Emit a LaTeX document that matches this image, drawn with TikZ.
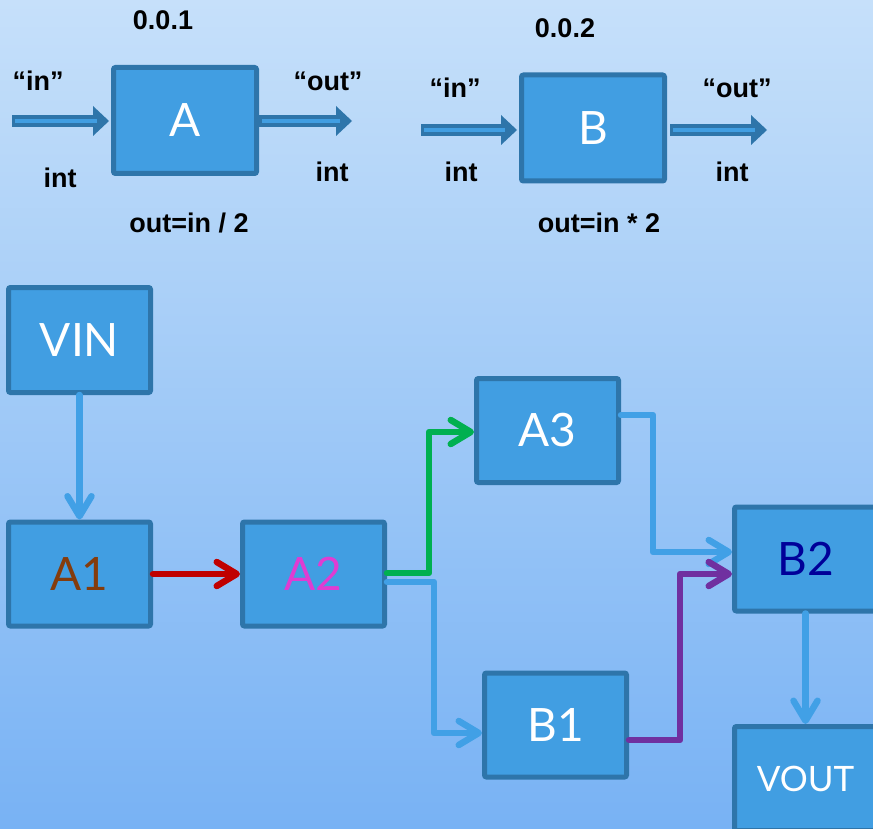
\documentclass[tikz,border=0pt]{standalone}
\usepackage{fontspec}
\setmainfont{Liberation Sans}
\newfontfamily\gillfont{Lato}
\usetikzlibrary{arrows.meta,calc}
\definecolor{bgtop}{HTML}{C6E0FA}
\definecolor{bgbot}{HTML}{78B2F4}
\definecolor{boxfill}{HTML}{419EE2}
\definecolor{boxline}{HTML}{2E75AA}
\definecolor{connblue}{HTML}{41A0E6}
\definecolor{cred}{HTML}{C00000}
\definecolor{cgreen}{HTML}{00B050}
\definecolor{cpurple}{HTML}{7030A0}
\definecolor{tbrown}{HTML}{843C0C}
\definecolor{tmagenta}{HTML}{E03CD2}
\definecolor{tnavy}{HTML}{000099}
\begin{document}
\begin{tikzpicture}[x=1pt,y=-1pt,
  blockbox/.style={draw=boxline, line width=5pt, fill=boxfill, rounded corners=2pt,
    minimum width=142pt, minimum height=104pt, inner sep=0pt,
    font=\gillfont\fontsize{46}{50}\selectfont, text=white},
  topbox/.style={blockbox, minimum width=143pt, minimum height=106pt},
  lbl/.style={font=\bfseries\fontsize{27}{30}\selectfont, anchor=base, inner sep=0pt},
  conn/.style={line width=6.5pt, line cap=round, line join=round,
    -{Straight Barb[length=20pt,width=24pt,round]}},
  fatshaft/.style={draw=boxline, line width=12pt,
    -{Triangle[length=16pt,width=30pt,line width=0pt]}},
  fatcore/.style={draw=boxfill, line width=4pt, shorten <=2.5pt, shorten >=12pt},
]
\useasboundingbox (0,0) rectangle (873,829);
\clip (0,0) rectangle (873,829);
\shade[top color=bgtop, bottom color=bgbot] (0,0) rectangle (873,829);

% ---- top: component A ----
\node[topbox] (A) at (185,120.5) {A};
\coordinate (Ain) at (12,121);
\coordinate (Aout) at (352,121);
\draw[fatshaft, shorten >=2pt] (Ain) -- ($(A.west)+(0,0.5)$);
\draw[fatcore, shorten >=14pt] (Ain) -- ($(A.west)+(0,0.5)$);
\draw[fatshaft] ($(A.east)+(0,0.5)$) -- (Aout);
\draw[fatcore] ($(A.east)+(0,0.5)$) -- (Aout);
\node[lbl] (Aver) at (163,30) {0.0.1};
\node[lbl] (Ainl) at (38,91) {“in”};
\node[lbl] (Aint1) at (60,188) {int};
\node[lbl] (Aoutl) at (328,91) {“out”};
\node[lbl] (Aint2) at (332,182) {int};
\node[lbl] (Afun) at (189,233) {out=in / 2};

% ---- top: component B ----
\node[topbox] (B) at (593,128) {B};
\coordinate (Bin) at (421,130);
\coordinate (Bout) at (767,130);
\draw[fatshaft, shorten >=2pt] (Bin) -- ($(B.west)+(0,2)$);
\draw[fatcore, shorten >=14pt] (Bin) -- ($(B.west)+(0,2)$);
\draw[fatshaft] ($(B.east)+(3,2)$) -- (Bout);
\draw[fatcore] ($(B.east)+(3,2)$) -- (Bout);
\node[lbl] (Bver) at (565,38) {0.0.2};
\node[lbl] (Binl) at (455,98) {“in”};
\node[lbl] (Bint1) at (461,182) {int};
\node[lbl] (Boutl) at (737,98) {“out”};
\node[lbl] (Bint2) at (732,182) {int};
\node[lbl] (Bfun) at (599,233) {out=in * 2};

% ---- bottom graph ----
\node[blockbox, minimum height=105pt] (VIN) at (79.5,340) {VIN};
\node[blockbox, text=tbrown] (A1) at (79.5,574) {A1};
\node[blockbox, text=tmagenta] (A2) at (313.5,574) {A2};
\node[blockbox] (A3) at (547.5,430.5) {A3};
\node[blockbox] (B1) at (555.5,725) {B1};
\node[blockbox, text=tnavy] (B2) at (805.5,559) {B2};
\node[blockbox, font=\gillfont\fontsize{35}{40}\selectfont] (VOUT) at (805.5,778.5) {VOUT};

\draw[conn, connblue] (VIN) -- (A1);
\draw[conn, cred] (A1) -- (A2);
\draw[conn, cgreen] ($(A2.east)+(0,-1)$) -| ($(A3.west)+(-45,1.5)$) -- ($(A3.west)+(0,1.5)$);
\draw[conn, connblue] ($(A2.east)+(0,8)$) -| ($(B1.west)+(-48,8)$) -- ($(B1.west)+(0,8)$);
\draw[conn, connblue] ($(A3.east)+(0,-15.5)$) -| ($(B2.west)+(-79,-7)$) -- ($(B2.west)+(0,-7)$);
\draw[conn, cpurple] ($(B1.east)+(0,15)$) -| ($(B2.west)+(-52,15)$) -- ($(B2.west)+(0,15)$);
\draw[conn, connblue] (B2) -- (VOUT);
\end{tikzpicture}
\end{document}
